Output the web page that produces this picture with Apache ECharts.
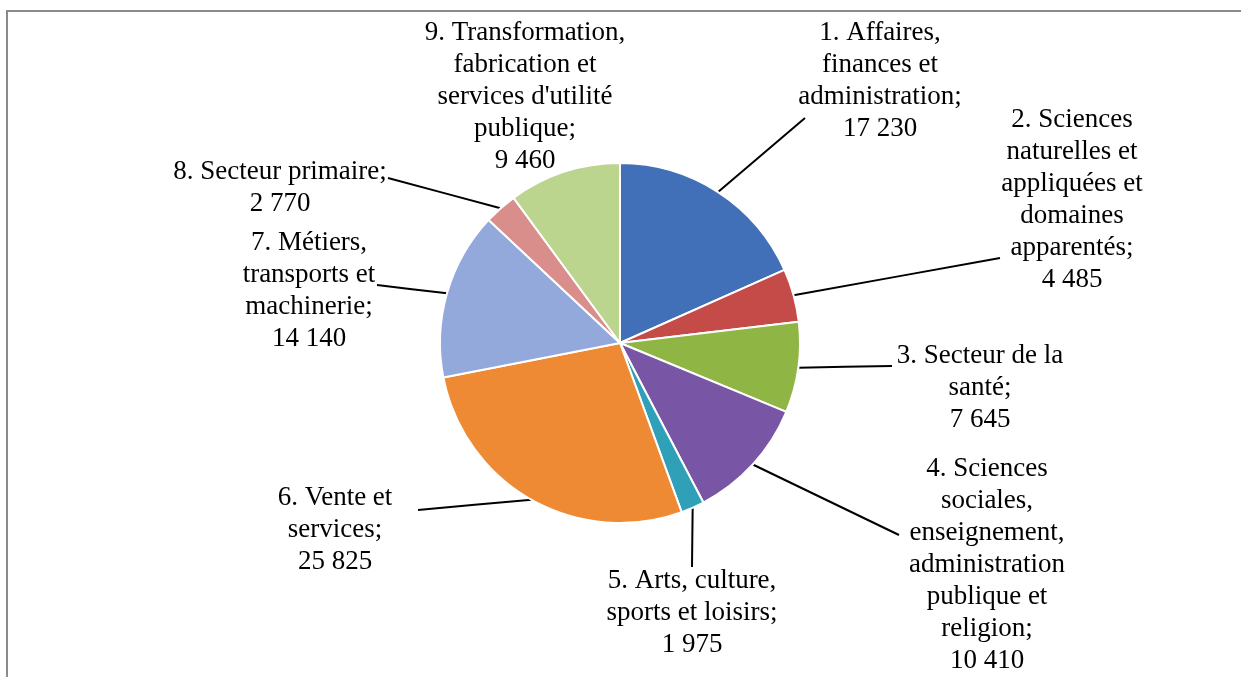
<!DOCTYPE html>
<html>
<head>
<meta charset="utf-8">
<script src="https://cdn.jsdelivr.net/npm/echarts@6/dist/echarts.min.js"></script>
<style>html,body{margin:0;padding:0;background:#fff;}#c{width:1241px;height:677px;}</style>
</head>
<body>
<div id="c"></div>
<script>
const categories = [
  "1. Affaires,\nfinances et\nadministration;",
  "2. Sciences\nnaturelles et\nappliquées et\ndomaines\napparentés;",
  "3. Secteur de la\nsanté;",
  "4. Sciences\nsociales,\nenseignement,\nadministration\npublique et\nreligion;",
  "5. Arts, culture,\nsports et loisirs;",
  "6. Vente et\nservices;",
  "7. Métiers,\ntransports et\nmachinerie;",
  "8. Secteur primaire;",
  "9. Transformation,\nfabrication et\nservices d'utilité\npublique;"
];
const values = [17230, 4485, 7645, 10410, 1975, 25825, 14140, 2770, 9460];
const colors = ["#4170B8", "#C44B48", "#8FB545", "#7955A5", "#2FA0B8", "#EE8A34", "#94A9DB", "#D98E8C", "#BBD48E"];

// label layout: centre of text block and leader attachment offset (relative to centre)
const labelPos = [
  {x: 880, y: 81, ax: -75, ay: 37},
  {x: 1072, y: 200, ax: -72, ay: 58},
  {x: 980, y: 388, ax: -88, ay: -22},
  {x: 987, y: 565, ax: -88, ay: -30},
  {x: 692, y: 613, ax: 0, ay: -46},
  {x: 335, y: 530, ax: 83, ay: -20},
  {x: 309, y: 291, ax: 68, ay: -6},
  {x: 280, y: 188, ax: 108, ay: -10},
  {x: 525, y: 97, ax: 0, ay: 0}
];

function fmt(v) {
  return String(v).replace(/\B(?=(\d{3})+(?!\d))/g, ' ');
}

const chart = echarts.init(document.getElementById('c'));
chart.setOption({
  backgroundColor: '#ffffff',
  animation: false,
  graphic: [{
    type: 'rect',
    shape: {x: 7, y: 11, width: 1300, height: 800},
    style: {fill: 'none', stroke: '#8a8a8a', lineWidth: 2},
    silent: true
  }],
  series: [{
    type: 'pie',
    center: [620, 343],
    radius: 180,
    startAngle: 90,
    clockwise: true,
    avoidLabelOverlap: false,
    itemStyle: {borderColor: '#ffffff', borderWidth: 2},
    label: {
      show: true,
      position: 'outside',
      color: '#000',
      fontFamily: '"Liberation Serif", "Times New Roman", serif',
      fontSize: 27,
      lineHeight: 32,
      align: 'center',
      formatter: p => p.name + '\n' + fmt(p.value)
    },
    labelLine: {show: true, lineStyle: {color: '#000', width: 2}, length: 10, length2: 10},
    labelLayout: function (params) {
      const lp = labelPos[params.dataIndex];
      const res = {x: lp.x, y: lp.y, align: 'center', verticalAlign: 'middle'};
      if (params.labelLinePoints && params.dataIndex !== 8) {
        const s = params.labelLinePoints[0];
        const e = [lp.x + lp.ax, lp.y + lp.ay];
        res.labelLinePoints = [s, [(s[0] + e[0]) / 2, (s[1] + e[1]) / 2], e];
      }
      return res;
    },
    data: values.map((v, i) => ({
      name: categories[i],
      value: v,
      itemStyle: {color: colors[i]},
      labelLine: i === 8 ? {show: false} : undefined
    }))
  }]
});
</script>
</body>
</html>
